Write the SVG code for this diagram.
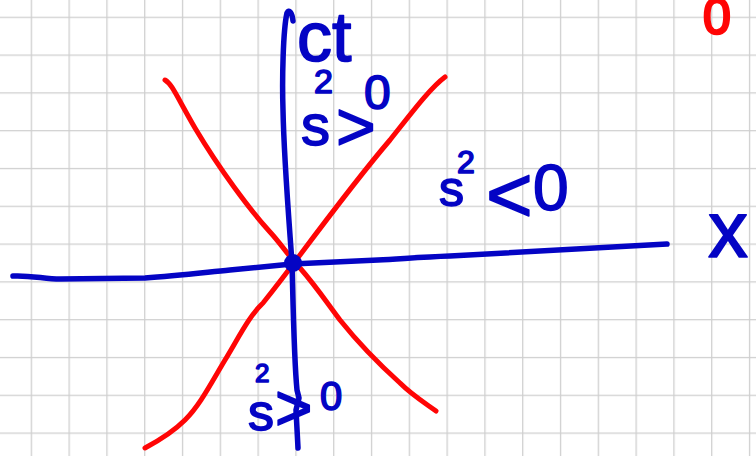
<svg xmlns="http://www.w3.org/2000/svg" width="756" height="456" viewBox="0 0 756 456">
<defs>
<pattern id="grid" x="30.7" y="16.7" width="37.8" height="37.8" patternUnits="userSpaceOnUse">
<path d="M0,0 H37.8 M0,0 V37.8" fill="none" stroke="#cfcfcf" stroke-width="2.6"/>
</pattern>
</defs>
<style>
.blue{fill:none;stroke:#0404c4;stroke-linecap:round;stroke-linejoin:round}
.red{fill:none;stroke:#ff0505;stroke-linecap:round;stroke-linejoin:round;stroke-width:5}
.lbl{font-family:"Liberation Sans",Arial,sans-serif;fill:#0404c4;stroke:#0404c4;stroke-width:1.6;stroke-linejoin:round}
.lblr{font-family:"Liberation Sans",Arial,sans-serif;fill:#ff0505;stroke:#ff0505;stroke-width:2.5}
</style>
<rect width="756" height="456" fill="#ffffff"/>
<rect width="756" height="456" fill="url(#grid)"/>
<g id="connectors">
<path class="red" d="M165,80 C172,84 176,95 195,128 C220,170 250,210 270,232 C282,245 290,258 300,268 C315,285 325,300 340,320 C360,345 380,365 400,383 C412,395 425,403 436,411"/>
<path class="red" d="M145,448 C160,440 175,430 185,420 C200,405 210,385 225,360 C240,335 250,315 263,303 C275,288 285,275 300,255 C330,215 360,175 390,140 C410,115 430,88 445,77"/>
<path class="blue" stroke-width="5.5" d="M293,21 C292,12 289,9 287,13 C283,30 282,80 283,110 C284,160 289,220 292,263 C293,300 294,360 297,390 L299,398 L296,410 L298,448"/>
<path class="blue" stroke-width="5.5" d="M13,276 C30,275 45,279 60,279 L145,278 C175,276 200,273 230,270 L292,264 L378,260 C400,259 420,257 450,256 L667,244"/>
</g>
<g id="origin"><circle cx="293" cy="263" r="9" fill="#0404c4"/></g>
<g id="label-ct"><text class="lbl" x="297" y="61" font-size="70">ct</text></g>
<g id="label-upper"><text class="lbl"><tspan x="301" y="145" font-size="58">s</tspan><tspan x="314" y="93" font-size="34">2</tspan><tspan x="336" y="150" font-size="68">&gt;</tspan><tspan x="364" y="109" font-size="48">0</tspan></text></g>
<g id="label-right"><text class="lbl"><tspan x="439" y="206" font-size="50">s</tspan><tspan x="457" y="173" font-size="32">2</tspan><tspan x="486" y="222" font-size="80">&lt;</tspan><tspan x="533" y="210" font-size="64">0</tspan></text></g>
<g id="label-x"><text class="lbl" x="708" y="257" font-size="80">x</text></g>
<g id="label-lower"><text class="lbl"><tspan x="248" y="430" font-size="52">s</tspan><tspan x="255" y="382" font-size="26">2</tspan><tspan x="275" y="430" font-size="64">&gt;</tspan><tspan x="320" y="410" font-size="40">0</tspan></text></g>
<g id="label-red0"><text class="lblr" x="703" y="34" font-size="50">0</text></g>
</svg>
